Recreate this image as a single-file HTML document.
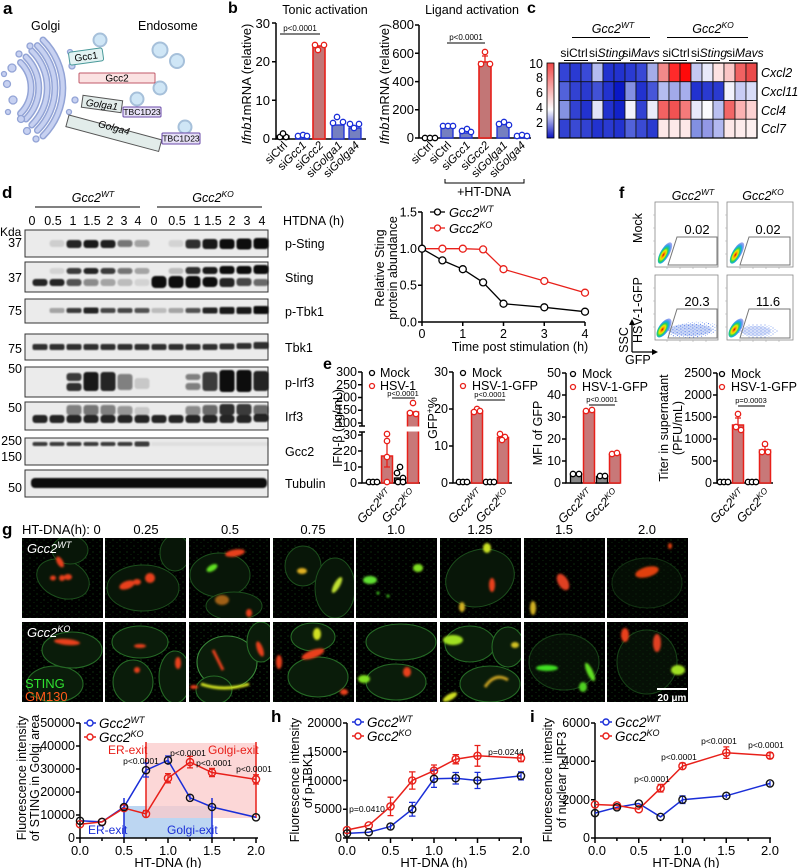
<!DOCTYPE html>
<html><head><meta charset="utf-8"><style>
html,body{margin:0;padding:0;background:#fff;}
svg{display:block;font-family:"Liberation Sans",Arial,sans-serif;}
.c{fill:#081608;stroke:#1c4f1c;stroke-width:1}
.c2{fill:#0a1c0a;stroke:#256a25;stroke-width:1.1}
</style></head><body>
<svg width="800" height="868" viewBox="0 0 800 868" xmlns="http://www.w3.org/2000/svg">
<defs>
<filter id="bl" x="-20%" y="-50%" width="140%" height="200%"><feGaussianBlur stdDeviation="0.9"/></filter>
<filter id="bl2"><feGaussianBlur stdDeviation="1"/></filter>
<pattern id="spk" width="7" height="6" patternUnits="userSpaceOnUse"><circle cx="1" cy="2" r="0.6" fill="#2f9a2f"/><circle cx="5" cy="4.5" r="0.5" fill="#237a23"/></pattern>
<pattern id="fd" width="4" height="3" patternUnits="userSpaceOnUse"><circle cx="1" cy="1" r=".55" fill="#2a58e0"/><circle cx="3" cy="2.4" r=".45" fill="#4a80f0"/></pattern>
<clipPath id="tc"><rect width="81" height="80"/></clipPath>
<radialGradient id="fg" cx=".45" cy=".6" r=".55"><stop offset="0" stop-color="#d00000"/><stop offset=".2" stop-color="#ff9a00"/><stop offset=".38" stop-color="#e8f000"/><stop offset=".56" stop-color="#30d050"/><stop offset=".75" stop-color="#10b0e0"/><stop offset="1" stop-color="#2848e0" stop-opacity=".5"/></radialGradient>
<linearGradient id="cb" x1="0" y1="0" x2="0" y2="1"><stop offset="0" stop-color="#f04848"/><stop offset=".62" stop-color="#ffffff"/><stop offset="1" stop-color="#0a14c0"/></linearGradient>
</defs>

<!-- ========== Panel a ========== -->
<text x="3" y="14" font-size="17" font-weight="bold">a</text>
<text x="31" y="30" font-size="12.5">Golgi</text>
<text x="138" y="30" font-size="12.5">Endosome</text>
<g fill="none" stroke-linecap="round">
<g stroke="#93a4d6" stroke-width="7">
<path d="M43,40 A68,68 0 0 1 43,136"/><path d="M37.4,45.6 A60,60 0 0 1 37.4,130.4"/><path d="M31.8,51 A52,52 0 0 1 31.8,125"/><path d="M26,57 A44,44 0 0 1 26,119"/><path d="M20.5,62.5 A36,36 0 0 1 20.5,113.5"/>
</g>
<g stroke="#c7d1f1" stroke-width="4">
<path d="M43,40 A68,68 0 0 1 43,136"/><path d="M37.4,45.6 A60,60 0 0 1 37.4,130.4"/><path d="M31.8,51 A52,52 0 0 1 31.8,125"/><path d="M26,57 A44,44 0 0 1 26,119"/><path d="M20.5,62.5 A36,36 0 0 1 20.5,113.5"/>
</g>
</g>
<g fill="#c7d1f1" stroke="#93a4d6" stroke-width="1.3">
<circle cx="12" cy="68" r="4"/><circle cx="7" cy="84" r="3.5"/><circle cx="13" cy="100" r="4"/><circle cx="21" cy="119" r="3.5"/><circle cx="19" cy="54" r="3"/><circle cx="30" cy="46" r="3"/><circle cx="27" cy="131" r="3.5"/><circle cx="4" cy="74" r="2.5"/><circle cx="8" cy="112" r="2.5"/><circle cx="36" cy="139" r="3"/><circle cx="72" cy="66" r="3"/><circle cx="75" cy="100" r="3"/><circle cx="69" cy="112" r="2.5"/><circle cx="70" cy="52" r="2.5"/>
</g>
<g fill="#cfe6f6" stroke="#a6c0da" stroke-width="2">
<circle cx="100" cy="40" r="6.5"/><circle cx="160" cy="50" r="7.5"/><circle cx="177" cy="61" r="7"/><circle cx="160" cy="88" r="6.5"/><circle cx="137" cy="99" r="6.5"/><circle cx="185" cy="127" r="6.5"/>
</g>
<rect x="69" y="50" width="34" height="13" rx="2" fill="#e2f2f2" stroke="#4a9a9a" transform="rotate(-8 86 56)"/>
<text x="86" y="60" font-size="10" text-anchor="middle" transform="rotate(-8 86 56)">Gcc1</text>
<rect x="79" y="73" width="76" height="10" rx="1" fill="#fbe2e2" stroke="#c05a6a"/>
<text x="117" y="81.5" font-size="10" text-anchor="middle">Gcc2</text>
<rect x="82" y="98" width="40" height="12" fill="#e2ecea" stroke="#555" transform="rotate(8 102 104)"/>
<text x="102" y="108" font-size="10" text-anchor="middle" font-style="italic" transform="rotate(8 102 104)">Golga1</text>
<rect x="123" y="107" width="38" height="10" rx="1" fill="#e6e0f6" stroke="#6a4aa8"/>
<text x="142" y="115" font-size="8.5" text-anchor="middle">TBC1D23</text>
<rect x="69" y="115" width="96" height="12" fill="#e2ecea" stroke="#555" transform="rotate(15 69 115)"/>
<text x="114" y="131" font-size="10" text-anchor="middle" font-style="italic" transform="rotate(15 114 128)">Golga4</text>
<rect x="162" y="133" width="38" height="11" rx="1" fill="#e6e0f6" stroke="#6a4aa8"/>
<text x="181" y="141.5" font-size="8.5" text-anchor="middle">TBC1D23</text>

<!-- ========== Panel b ========== -->
<text x="228" y="13" font-size="16" font-weight="bold">b</text>
<text x="325" y="14" font-size="12.5" text-anchor="middle">Tonic activation</text>
<text transform="translate(251,84) rotate(-90)" text-anchor="middle" font-size="13"><tspan font-style="italic">Ifnb1</tspan>mRNA (relative)</text>
<path d="M276,23 V139 H366" stroke="#000" stroke-width="1.5" fill="none"/>
<path d="M272,23H276M272,61.7H276M272,100.3H276M272,139H276" stroke="#000" stroke-width="1.5"/>
<g font-size="13" text-anchor="end"><text x="270" y="28">30</text><text x="270" y="66">20</text><text x="270" y="105">10</text><text x="270" y="143">0</text></g>
<rect x="277" y="136" width="12" height="3" fill="none" stroke="#000" stroke-width="1.3"/>
<rect x="296" y="135.5" width="12" height="3.5" fill="#7580c0" stroke="#1a2ed8" stroke-width="1.3"/>
<rect x="313" y="46" width="12" height="93" fill="#c27676" stroke="#e8201a" stroke-width="1.6"/>
<rect x="332" y="125" width="12" height="14" fill="#7580c0" stroke="#1a2ed8" stroke-width="1.3"/>
<rect x="349" y="128" width="12" height="11" fill="#7580c0" stroke="#1a2ed8" stroke-width="1.3"/>
<g fill="#fff" stroke-width="1.3">
<g stroke="#000"><circle cx="280" cy="137" r="2.7"/><circle cx="286" cy="137" r="2.7"/><circle cx="283" cy="133.5" r="2.7"/></g>
<g stroke="#1a2ed8"><circle cx="298" cy="136" r="2.7"/><circle cx="303" cy="135" r="2.7"/><circle cx="307" cy="136" r="2.7"/><circle cx="337" cy="117" r="2.7"/><circle cx="333" cy="123" r="2.7"/><circle cx="343" cy="122" r="2.7"/><circle cx="350" cy="124" r="2.7"/><circle cx="354" cy="128" r="2.7"/><circle cx="359" cy="124" r="2.7"/></g>
<g stroke="#e8201a"><circle cx="315" cy="45" r="2.7"/><circle cx="324" cy="45" r="2.7"/><circle cx="318" cy="50" r="2.7"/></g>
</g>
<line x1="280" y1="34" x2="320" y2="34" stroke="#000" stroke-width="1"/>
<text x="300" y="31" font-size="8" text-anchor="middle">p&lt;0.0001</text>
<g font-size="11.5" text-anchor="end">
<text transform="translate(288,146) rotate(-45)">siCtrl</text>
<text transform="translate(307,146) rotate(-45)">si<tspan font-style="italic">Gcc1</tspan></text>
<text transform="translate(324,146) rotate(-45)">si<tspan font-style="italic">Gcc2</tspan></text>
<text transform="translate(343,146) rotate(-45)">si<tspan font-style="italic">Golga1</tspan></text>
<text transform="translate(360,146) rotate(-45)">si<tspan font-style="italic">Golga4</tspan></text>
</g>

<text x="472" y="14" font-size="12.5" text-anchor="middle">Ligand activation</text>
<text transform="translate(389,84) rotate(-90)" text-anchor="middle" font-size="13"><tspan font-style="italic">Ifnb1</tspan>mRNA (relative)</text>
<path d="M419,25 V138 H531" stroke="#000" stroke-width="1.5" fill="none"/>
<path d="M415,25H419M415,53.3H419M415,81.6H419M415,109.7H419M415,138H419" stroke="#000" stroke-width="1.5"/>
<g font-size="13" text-anchor="end"><text x="414" y="29">800</text><text x="414" y="58">600</text><text x="414" y="86">400</text><text x="414" y="114">200</text><text x="414" y="142">0</text></g>
<rect x="441" y="127" width="12" height="11" fill="#7580c0" stroke="#1a2ed8" stroke-width="1.3"/>
<rect x="460" y="133" width="12" height="5" fill="#7580c0" stroke="#1a2ed8" stroke-width="1.3"/>
<rect x="479" y="62" width="12" height="76" fill="#c27676" stroke="#e8201a" stroke-width="1.6"/>
<path d="M485,62V56M482,56H488" stroke="#e8201a" stroke-width="1.3"/>
<rect x="497" y="124" width="12" height="14" fill="#7580c0" stroke="#1a2ed8" stroke-width="1.3"/>
<rect x="515" y="136.5" width="12" height="1.5" fill="#7580c0" stroke="#1a2ed8" stroke-width="1.3"/>
<g fill="#fff" stroke-width="1.3">
<g stroke="#000"><circle cx="425" cy="138" r="2.7"/><circle cx="430" cy="138" r="2.7"/><circle cx="435" cy="138" r="2.7"/></g>
<g stroke="#1a2ed8"><circle cx="443" cy="126" r="2.7"/><circle cx="448" cy="126" r="2.7"/><circle cx="453" cy="126" r="2.7"/><circle cx="462" cy="131" r="2.7"/><circle cx="467" cy="129" r="2.7"/><circle cx="471" cy="132" r="2.7"/><circle cx="499" cy="124" r="2.7"/><circle cx="504" cy="122" r="2.7"/><circle cx="509" cy="125" r="2.7"/><circle cx="517" cy="136" r="2.7"/><circle cx="522" cy="135" r="2.7"/><circle cx="527" cy="136" r="2.7"/></g>
<g stroke="#e8201a"><circle cx="485" cy="52" r="2.7"/><circle cx="481" cy="64" r="2.7"/><circle cx="490" cy="64" r="2.7"/></g>
</g>
<line x1="447" y1="43" x2="485" y2="43" stroke="#000" stroke-width="1"/>
<text x="466" y="40" font-size="8" text-anchor="middle">p&lt;0.0001</text>
<g font-size="11.5" text-anchor="end">
<text transform="translate(434,146) rotate(-45)">siCtrl</text>
<text transform="translate(452,146) rotate(-45)">siCtrl</text>
<text transform="translate(471,146) rotate(-45)">si<tspan font-style="italic">Gcc1</tspan></text>
<text transform="translate(490,146) rotate(-45)">si<tspan font-style="italic">Gcc2</tspan></text>
<text transform="translate(508,146) rotate(-45)">si<tspan font-style="italic">Golga1</tspan></text>
<text transform="translate(526,146) rotate(-45)">si<tspan font-style="italic">Golga4</tspan></text>
</g>
<path d="M445,179 V183 H524 V179" stroke="#000" stroke-width="1" fill="none"/>
<text x="484" y="196" font-size="12.5" text-anchor="middle">+HT-DNA</text>

<!-- ========== Panel c ========== -->
<text x="527" y="13" font-size="16" font-weight="bold">c</text>
<text x="613" y="33" font-size="12.5" text-anchor="middle"><tspan font-style="italic">Gcc2</tspan><tspan font-style="italic" font-size="8.5" dy="-5">WT</tspan></text>
<text x="713" y="33" font-size="12.5" text-anchor="middle"><tspan font-style="italic">Gcc2</tspan><tspan font-style="italic" font-size="8.5" dy="-5">KO</tspan></text>
<path d="M572,37.5H650M667,37.5H748" stroke="#000" stroke-width="1"/>
<g font-size="12" text-anchor="middle">
<text x="574" y="57">siCtrl</text><text x="607" y="57">si<tspan font-style="italic">Sting</tspan></text><text x="641" y="57">si<tspan font-style="italic">Mavs</tspan></text>
<text x="676" y="57">siCtrl</text><text x="709" y="57">si<tspan font-style="italic">Sting</tspan></text><text x="745" y="57">si<tspan font-style="italic">Mavs</tspan></text>
</g>
<path d="M564,60.5H588M597,60.5H621M630,60.5H654M663,60.5H687M696,60.5H720M729,60.5H753" stroke="#000" stroke-width="1"/>
<rect x="547" y="63" width="7" height="75" fill="url(#cb)" stroke="#000" stroke-width=".8"/>
<g font-size="12.5" text-anchor="end"><text x="543" y="68">10</text><text x="543" y="82">8</text><text x="543" y="97">6</text><text x="543" y="112">4</text><text x="543" y="127">2</text></g>
<g stroke="#111" stroke-width=".8">
<rect x="559" y="63" width="11" height="18.75" fill="#3444d6"/><rect x="570" y="63" width="11" height="18.75" fill="#2a3ad2"/><rect x="581" y="63" width="11" height="18.75" fill="#3a4ad8"/><rect x="592" y="63" width="11" height="18.75" fill="#b4bcf0"/><rect x="603" y="63" width="11" height="18.75" fill="#2232cf"/><rect x="614" y="63" width="11" height="18.75" fill="#2232cf"/><rect x="625" y="63" width="11" height="18.75" fill="#2a3ad2"/><rect x="636" y="63" width="11" height="18.75" fill="#3848d6"/><rect x="647" y="63" width="11" height="18.75" fill="#a4ace8"/><rect x="658" y="63" width="11" height="18.75" fill="#f28a8a"/><rect x="669" y="63" width="11" height="18.75" fill="#ff2a2a"/><rect x="680" y="63" width="11" height="18.75" fill="#ff0a0a"/><rect x="691" y="63" width="11" height="18.75" fill="#c4c8f2"/><rect x="702" y="63" width="11" height="18.75" fill="#e8e9fa"/><rect x="713" y="63" width="11" height="18.75" fill="#fde2e2"/><rect x="724" y="63" width="11" height="18.75" fill="#fbc6c6"/><rect x="735" y="63" width="11" height="18.75" fill="#f06262"/><rect x="746" y="63" width="11" height="18.75" fill="#ea4a4a"/>
<rect x="559" y="81.75" width="11" height="18.75" fill="#5262da"/><rect x="570" y="81.75" width="11" height="18.75" fill="#3242d2"/><rect x="581" y="81.75" width="11" height="18.75" fill="#2a3ad0"/><rect x="592" y="81.75" width="11" height="18.75" fill="#4252d6"/><rect x="603" y="81.75" width="11" height="18.75" fill="#2232cf"/><rect x="614" y="81.75" width="11" height="18.75" fill="#0a18c6"/><rect x="625" y="81.75" width="11" height="18.75" fill="#8490e2"/><rect x="636" y="81.75" width="11" height="18.75" fill="#2232cf"/><rect x="647" y="81.75" width="11" height="18.75" fill="#4656d8"/><rect x="658" y="81.75" width="11" height="18.75" fill="#b4bcf0"/><rect x="669" y="81.75" width="11" height="18.75" fill="#a2aaea"/><rect x="680" y="81.75" width="11" height="18.75" fill="#a6aeec"/><rect x="691" y="81.75" width="11" height="18.75" fill="#2232cf"/><rect x="702" y="81.75" width="11" height="18.75" fill="#2a3ad0"/><rect x="713" y="81.75" width="11" height="18.75" fill="#2a3ad0"/><rect x="724" y="81.75" width="11" height="18.75" fill="#f2f2fc"/><rect x="735" y="81.75" width="11" height="18.75" fill="#c8ccf4"/><rect x="746" y="81.75" width="11" height="18.75" fill="#d8dcf8"/>
<rect x="559" y="100.5" width="11" height="18.75" fill="#8492e2"/><rect x="570" y="100.5" width="11" height="18.75" fill="#3242d2"/><rect x="581" y="100.5" width="11" height="18.75" fill="#2232cf"/><rect x="592" y="100.5" width="11" height="18.75" fill="#e2e4f8"/><rect x="603" y="100.5" width="11" height="18.75" fill="#2232cf"/><rect x="614" y="100.5" width="11" height="18.75" fill="#1222c9"/><rect x="625" y="100.5" width="11" height="18.75" fill="#f2f2fc"/><rect x="636" y="100.5" width="11" height="18.75" fill="#3242d2"/><rect x="647" y="100.5" width="11" height="18.75" fill="#eaebfa"/><rect x="658" y="100.5" width="11" height="18.75" fill="#f26262"/><rect x="669" y="100.5" width="11" height="18.75" fill="#f25252"/><rect x="680" y="100.5" width="11" height="18.75" fill="#f47a7a"/><rect x="691" y="100.5" width="11" height="18.75" fill="#e8e9fa"/><rect x="702" y="100.5" width="11" height="18.75" fill="#fbfbfe"/><rect x="713" y="100.5" width="11" height="18.75" fill="#bac0f0"/><rect x="724" y="100.5" width="11" height="18.75" fill="#f26666"/><rect x="735" y="100.5" width="11" height="18.75" fill="#fbb2b2"/><rect x="746" y="100.5" width="11" height="18.75" fill="#fcd2d2"/>
<rect x="559" y="119.25" width="11" height="18.75" fill="#3242d2"/><rect x="570" y="119.25" width="11" height="18.75" fill="#3a4ad4"/><rect x="581" y="119.25" width="11" height="18.75" fill="#3242d2"/><rect x="592" y="119.25" width="11" height="18.75" fill="#2232cf"/><rect x="603" y="119.25" width="11" height="18.75" fill="#2a3ad0"/><rect x="614" y="119.25" width="11" height="18.75" fill="#2232cf"/><rect x="625" y="119.25" width="11" height="18.75" fill="#5262da"/><rect x="636" y="119.25" width="11" height="18.75" fill="#3a4ad4"/><rect x="647" y="119.25" width="11" height="18.75" fill="#2a3ad0"/><rect x="658" y="119.25" width="11" height="18.75" fill="#fde8e8"/><rect x="669" y="119.25" width="11" height="18.75" fill="#fde8e8"/><rect x="680" y="119.25" width="11" height="18.75" fill="#fde8e8"/><rect x="691" y="119.25" width="11" height="18.75" fill="#8290e2"/><rect x="702" y="119.25" width="11" height="18.75" fill="#9298e6"/><rect x="713" y="119.25" width="11" height="18.75" fill="#b2b8f0"/><rect x="724" y="119.25" width="11" height="18.75" fill="#fde8e8"/><rect x="735" y="119.25" width="11" height="18.75" fill="#fdecec"/><rect x="746" y="119.25" width="11" height="18.75" fill="#fdf0f0"/>
</g>
<rect x="559" y="63" width="198" height="75" fill="none" stroke="#000" stroke-width="1.2"/>
<g font-size="12.5" font-style="italic"><text x="761" y="77">Cxcl2</text><text x="761" y="96">Cxcl11</text><text x="761" y="115">Ccl4</text><text x="761" y="133">Ccl7</text></g>

<!-- ========== Panel d blots ========== -->
<text x="2" y="198" font-size="17" font-weight="bold">d</text>
<text x="93" y="202" font-size="12.5" text-anchor="middle"><tspan font-style="italic">Gcc2</tspan><tspan font-style="italic" font-size="8.5" dy="-5">WT</tspan></text>
<text x="213" y="202" font-size="12.5" text-anchor="middle"><tspan font-style="italic">Gcc2</tspan><tspan font-style="italic" font-size="8.5" dy="-5">KO</tspan></text>
<path d="M35,207H140M157,207H262" stroke="#000" stroke-width="1"/>
<g font-size="12.5" text-anchor="middle">
<text x="32" y="225">0</text><text x="53" y="225">0.5</text><text x="73" y="225">1</text><text x="92" y="225">1.5</text><text x="110" y="225">2</text><text x="124" y="225">3</text><text x="138" y="225">4</text>
<text x="154" y="225">0</text><text x="177" y="225">0.5</text><text x="197" y="225">1</text><text x="213" y="225">1.5</text><text x="232" y="225">2</text><text x="247" y="225">3</text><text x="262" y="225">4</text>
</g>
<text x="283" y="225" font-size="12.5">HTDNA (h)</text>
<text x="0" y="236" font-size="12">Kda</text>
<g fill="#ebebeb" stroke="#333" stroke-width="1">
<rect x="25" y="230" width="243" height="27"/><rect x="25" y="262" width="243" height="30"/><rect x="25" y="299" width="243" height="24"/><rect x="25" y="334" width="243" height="26"/><rect x="25" y="367" width="243" height="30"/><rect x="25" y="402" width="243" height="28"/><rect x="25" y="438" width="243" height="27"/><rect x="25" y="470" width="243" height="27"/>
</g>
<g font-size="12.5" text-anchor="end">
<text x="22" y="247">37</text><text x="22" y="282">37</text><text x="22" y="315">75</text><text x="22" y="353">75</text><text x="22" y="373">50</text><text x="22" y="412">50</text><text x="22" y="445">250</text><text x="22" y="461">150</text><text x="22" y="492">50</text>
</g>
<g font-size="12.5"><text x="285" y="248">p-Sting</text><text x="285" y="282">Sting</text><text x="285" y="316">p-Tbk1</text><text x="285" y="352">Tbk1</text><text x="285" y="387">p-Irf3</text><text x="285" y="421">Irf3</text><text x="285" y="456">Gcc2</text><text x="285" y="488">Tubulin</text></g>
<g fill="#111" filter="url(#bl)">
<rect x="49.5" y="240" width="15" height="7" rx="3" opacity=".12"/><rect x="66.5" y="240" width="15" height="8" rx="3" opacity=".9"/><rect x="83.5" y="240" width="15" height="8" rx="3" opacity=".95"/><rect x="100.5" y="240" width="15" height="8" rx="3" opacity=".92"/><rect x="117.5" y="240" width="15" height="7" rx="3" opacity=".55"/><rect x="134.5" y="240" width="15" height="7" rx="3" opacity=".35"/><rect x="168.5" y="240" width="15" height="7" rx="3" opacity=".1"/><rect x="185.5" y="239.5" width="15" height="9" rx="3" opacity=".85"/><rect x="202.5" y="239" width="15" height="10" rx="3" opacity=".95"/><rect x="219.5" y="239" width="15" height="10" rx="3"/><rect x="236.5" y="238.5" width="15" height="11" rx="3"/><rect x="253.5" y="238" width="15" height="11" rx="3"/>
<rect x="49.5" y="268" width="15" height="6" rx="3" opacity=".1"/><rect x="66.5" y="268" width="15" height="6" rx="3" opacity=".8"/><rect x="83.5" y="268" width="15" height="6" rx="3" opacity=".9"/><rect x="100.5" y="268" width="15" height="6" rx="3" opacity=".8"/><rect x="117.5" y="268" width="15" height="6" rx="3" opacity=".55"/><rect x="134.5" y="268" width="15" height="6" rx="3" opacity=".3"/><rect x="168.5" y="268" width="15" height="6" rx="3" opacity=".2"/><rect x="185.5" y="267" width="15" height="7" rx="3" opacity=".85"/><rect x="202.5" y="267" width="15" height="7" rx="3" opacity=".95"/><rect x="219.5" y="266" width="15" height="8" rx="3"/><rect x="236.5" y="266" width="15" height="8" rx="3"/><rect x="253.5" y="265" width="15" height="9" rx="3"/>
<rect x="32.5" y="279" width="15" height="7" rx="3" opacity=".9"/><rect x="49.5" y="279" width="15" height="7" rx="3" opacity=".9"/><rect x="66.5" y="279" width="15" height="7" rx="3" opacity=".7"/><rect x="83.5" y="279" width="15" height="7" rx="3" opacity=".45"/><rect x="100.5" y="279" width="15" height="7" rx="3" opacity=".3"/><rect x="117.5" y="279" width="15" height="7" rx="3" opacity=".2"/><rect x="134.5" y="279" width="15" height="7" rx="3" opacity=".1"/><rect x="151.5" y="276" width="15" height="12" rx="4"/><rect x="168.5" y="276" width="15" height="12" rx="4"/><rect x="185.5" y="276" width="15" height="12" rx="4"/><rect x="202.5" y="277" width="15" height="10" rx="4"/><rect x="219.5" y="278" width="15" height="9" rx="3" opacity=".9"/><rect x="236.5" y="278" width="15" height="8" rx="3" opacity=".75"/><rect x="253.5" y="279" width="15" height="7" rx="3" opacity=".6"/>
<rect x="49.5" y="308" width="15" height="5" rx="2" opacity=".3"/><rect x="66.5" y="308" width="15" height="5" rx="2" opacity=".8"/><rect x="83.5" y="307.5" width="15" height="6" rx="2" opacity=".9"/><rect x="100.5" y="308" width="15" height="5" rx="2" opacity=".75"/><rect x="117.5" y="308" width="15" height="5" rx="2" opacity=".75"/><rect x="134.5" y="308" width="15" height="5" rx="2" opacity=".7"/><rect x="151.5" y="308" width="15" height="5" rx="2" opacity=".2"/><rect x="168.5" y="308" width="15" height="5" rx="2" opacity=".3"/><rect x="185.5" y="308" width="15" height="5" rx="2" opacity=".7"/><rect x="202.5" y="307.5" width="15" height="6" rx="2" opacity=".9"/><rect x="219.5" y="307" width="15" height="7" rx="2" opacity=".95"/><rect x="236.5" y="307" width="15" height="7" rx="2" opacity=".95"/><rect x="253.5" y="306" width="15" height="8" rx="2"/>
<g opacity=".85"><rect x="32.5" y="344" width="15" height="6" rx="2"/><rect x="49.5" y="344" width="15" height="6" rx="2"/><rect x="66.5" y="344" width="15" height="6" rx="2"/><rect x="83.5" y="344" width="15" height="6" rx="2"/><rect x="100.5" y="344" width="15" height="6" rx="2"/><rect x="117.5" y="344" width="15" height="6" rx="2"/><rect x="134.5" y="344" width="15" height="6" rx="2"/><rect x="151.5" y="344" width="15" height="6" rx="2"/><rect x="168.5" y="344" width="15" height="6" rx="2"/><rect x="185.5" y="344" width="15" height="6" rx="2"/><rect x="202.5" y="344" width="15" height="6" rx="2"/><rect x="219.5" y="343.5" width="15" height="6" rx="2"/><rect x="236.5" y="343" width="15" height="6" rx="2"/><rect x="253.5" y="342" width="15" height="7" rx="2"/></g>
<rect x="66.5" y="373" width="15" height="8" rx="3" opacity=".8"/><rect x="66.5" y="383" width="15" height="8" rx="3" opacity=".85"/><rect x="83.5" y="372" width="15" height="19" rx="3" opacity=".95"/><rect x="100.5" y="372" width="15" height="19" rx="3" opacity=".9"/><rect x="117.5" y="374" width="15" height="16" rx="3" opacity=".5"/><rect x="134.5" y="378" width="15" height="11" rx="3" opacity=".15"/><rect x="185.5" y="374" width="15" height="6" rx="3" opacity=".5"/><rect x="185.5" y="383" width="15" height="7" rx="3" opacity=".5"/><rect x="202.5" y="372" width="15" height="19" rx="3" opacity=".8"/><rect x="219.5" y="370" width="15" height="22" rx="3"/><rect x="236.5" y="370" width="15" height="22" rx="3"/><rect x="253.5" y="371" width="15" height="20" rx="3" opacity=".9"/>
<rect x="66.5" y="405" width="15" height="10" rx="3" opacity=".5"/><rect x="83.5" y="405" width="15" height="10" rx="3" opacity=".55"/><rect x="100.5" y="405" width="15" height="10" rx="3" opacity=".5"/><rect x="117.5" y="406" width="15" height="9" rx="3" opacity=".4"/><rect x="134.5" y="407" width="15" height="8" rx="3" opacity=".15"/><rect x="185.5" y="406" width="15" height="9" rx="3" opacity=".45"/><rect x="202.5" y="405" width="15" height="10" rx="3" opacity=".6"/><rect x="219.5" y="404" width="15" height="11" rx="3" opacity=".85"/><rect x="236.5" y="404" width="15" height="11" rx="3" opacity=".8"/><rect x="253.5" y="405" width="15" height="10" rx="3" opacity=".6"/>
<g opacity=".9"><rect x="32.5" y="415" width="15" height="8" rx="3"/><rect x="49.5" y="415" width="15" height="8" rx="3"/><rect x="66.5" y="415" width="15" height="8" rx="3"/><rect x="83.5" y="415" width="15" height="8" rx="3"/><rect x="100.5" y="415" width="15" height="8" rx="3"/><rect x="117.5" y="415" width="15" height="8" rx="3"/><rect x="134.5" y="415" width="15" height="8" rx="3"/><rect x="151.5" y="415" width="15" height="8" rx="3"/><rect x="168.5" y="415" width="15" height="8" rx="3"/><rect x="185.5" y="415" width="15" height="8" rx="3"/><rect x="202.5" y="415" width="15" height="8" rx="3"/><rect x="219.5" y="415" width="15" height="8" rx="3"/><rect x="236.5" y="415" width="15" height="8" rx="3"/><rect x="253.5" y="414" width="15" height="8" rx="3"/></g>
<g opacity=".8"><rect x="32.5" y="442" width="15" height="4" rx="2"/><rect x="49.5" y="442" width="15" height="4" rx="2"/><rect x="66.5" y="442" width="15" height="4" rx="2"/><rect x="83.5" y="442" width="15" height="4" rx="2"/><rect x="100.5" y="442" width="15" height="4" rx="2"/><rect x="117.5" y="442" width="15" height="4" rx="2"/><rect x="134.5" y="441.5" width="15" height="5" rx="2"/></g>
<rect x="151.5" y="442" width="117" height="4" opacity=".05"/>
<rect x="31" y="478" width="236" height="10" rx="4"/>
</g>

<!-- ========== Panel d chart ========== -->
<text transform="translate(384,268) rotate(-90)" text-anchor="middle" font-size="12.5">Relative Sting</text>
<text transform="translate(397,268) rotate(-90)" text-anchor="middle" font-size="12.5">protein abundance</text>
<path d="M422,212 V322 H585" stroke="#000" stroke-width="1.5" fill="none"/>
<path d="M418,212H422M418,248.7H422M418,285.3H422M418,322H422M422,322V326M462.75,322V326M503.5,322V326M544.25,322V326M585,322V326" stroke="#000" stroke-width="1.5"/>
<g font-size="12.5" text-anchor="end"><text x="417" y="216.5">1.5</text><text x="417" y="253">1.0</text><text x="417" y="289.5">0.5</text><text x="417" y="326.5">0.0</text></g>
<g font-size="12.5" text-anchor="middle"><text x="422" y="338">0</text><text x="462.75" y="338">1</text><text x="503.5" y="338">2</text><text x="544.25" y="338">3</text><text x="585" y="338">4</text></g>
<text x="520" y="351" font-size="12.5" text-anchor="middle">Time post stimulation (h)</text>
<polyline points="422,248.7 442.4,248.7 462.8,248.7 483.1,249.4 503.5,269.2 544.3,281 585,292.7" fill="none" stroke="#e8201a" stroke-width="1.3"/>
<polyline points="422,248.7 442.4,260.4 462.8,269.2 483.1,282.4 503.5,303.7 544.3,307.3 585,311.7" fill="none" stroke="#000" stroke-width="1.3"/>
<g fill="#fff" stroke-width="1.3">
<g stroke="#e8201a"><circle cx="442.4" cy="248.7" r="3.5"/><circle cx="462.8" cy="248.7" r="3.5"/><circle cx="483.1" cy="249.4" r="3.5"/><circle cx="503.5" cy="269.2" r="3.5"/><circle cx="544.3" cy="281" r="3.5"/><circle cx="585" cy="292.7" r="3.5"/></g>
<g stroke="#000"><circle cx="422" cy="248.7" r="3.5"/><circle cx="442.4" cy="260.4" r="3.5"/><circle cx="462.8" cy="269.2" r="3.5"/><circle cx="483.1" cy="282.4" r="3.5"/><circle cx="503.5" cy="303.7" r="3.5"/><circle cx="544.3" cy="307.3" r="3.5"/><circle cx="585" cy="311.7" r="3.5"/></g>
</g>
<line x1="430" y1="212" x2="445" y2="212" stroke="#000" stroke-width="1.3"/><circle cx="437.5" cy="212" r="3" fill="#fff" stroke="#000" stroke-width="1.3"/>
<line x1="430" y1="228" x2="445" y2="228" stroke="#e8201a" stroke-width="1.3"/><circle cx="437.5" cy="228" r="3" fill="#fff" stroke="#e8201a" stroke-width="1.3"/>
<text x="449" y="217" font-size="13"><tspan font-style="italic">Gcc2</tspan><tspan font-style="italic" font-size="9" dy="-5">WT</tspan></text>
<text x="449" y="233" font-size="13"><tspan font-style="italic">Gcc2</tspan><tspan font-style="italic" font-size="9" dy="-5">KO</tspan></text>

<!-- ========== Panel f ========== -->
<text x="619" y="198" font-size="16" font-weight="bold">f</text>
<text x="693" y="200" font-size="12.5" text-anchor="middle"><tspan font-style="italic">Gcc2</tspan><tspan font-style="italic" font-size="8.5" dy="-5">WT</tspan></text>
<text x="763" y="200" font-size="12.5" text-anchor="middle"><tspan font-style="italic">Gcc2</tspan><tspan font-style="italic" font-size="8.5" dy="-5">KO</tspan></text>
<text transform="translate(642,228) rotate(-90)" text-anchor="middle" font-size="12.5">Mock</text>
<text transform="translate(642,310) rotate(-90)" text-anchor="middle" font-size="12.5">HSV-1-GFP</text>
<text transform="translate(628,340) rotate(-90)" text-anchor="middle" font-size="12.5">SSC</text>
<text x="625" y="364" font-size="12.5">GFP</text>
<path d="M632,352 V322 M632,352 H655" stroke="#000" stroke-width="1.3" fill="none"/>
<path d="M629,325 L632,319 L635,325Z M652,349 L658,352 L652,355Z" fill="#000"/>
<g fill="#fff" stroke="#888" stroke-width=".8">
<rect x="655" y="202" width="63" height="65"/><rect x="727" y="202" width="66" height="65"/><rect x="655" y="275" width="63" height="65"/><rect x="727" y="275" width="66" height="65"/>
</g>
<g stroke="#aaa" stroke-width=".6">
<path d="M653,215H655M653,228H655M653,241H655M653,254H655M725,215H727M725,228H727M725,241H727M725,254H727M653,288H655M653,301H655M653,314H655M653,327H655M725,288H727M725,301H727M725,314H727M725,327H727"/>
<path d="M667,267V269M680,267V269M693,267V269M706,267V269M740,267V269M753,267V269M766,267V269M779,267V269M667,340V342M680,340V342M693,340V342M706,340V342M740,340V342M753,340V342M766,340V342M779,340V342"/>
</g>
<ellipse cx="693" cy="330" rx="25" ry="8" fill="url(#fd)" transform="rotate(-5 693 330)"/>
<ellipse cx="690" cy="330" rx="22" ry="6" fill="#3060e0" opacity=".25"/>
<ellipse cx="758" cy="331" rx="20" ry="7" fill="url(#fd)" opacity=".8"/>
<ellipse cx="756" cy="331" rx="15" ry="5" fill="#3060e0" opacity=".2"/>
<ellipse cx="665" cy="253" rx="4.5" ry="12" fill="url(#fg)" transform="rotate(30 665 253)"/>
<ellipse cx="737" cy="253" rx="4.5" ry="12" fill="url(#fg)" transform="rotate(30 737 253)"/>
<ellipse cx="664" cy="328" rx="5" ry="11" fill="url(#fg)" transform="rotate(35 664 328)"/>
<ellipse cx="736" cy="328" rx="5" ry="11" fill="url(#fg)" transform="rotate(35 736 328)"/>
<g fill="none" stroke="#777" stroke-width="1">
<polygon points="668,265 677,237 717,237 717,265"/><polygon points="740,265 749,237 790,237 790,265"/>
<polygon points="668,338 677,309 717,309 717,338"/><polygon points="740,338 749,309 790,309 790,338"/>
</g>
<g font-size="13" text-anchor="middle"><text x="697" y="234">0.02</text><text x="768" y="234">0.02</text><text x="697" y="306">20.3</text><text x="768" y="306">11.6</text></g>

<!-- ========== Panel e ========== -->
<text x="323" y="369" font-size="16" font-weight="bold">e</text>
<text transform="translate(342,428) rotate(-90)" text-anchor="middle" font-size="12.5">IFN-β (pg/mL)</text>
<path d="M362,372 V426 M362,432 V483 H420" stroke="#000" stroke-width="1.5" fill="none"/>
<path d="M358,372H362M358,384.75H362M358,397.5H362M358,410.25H362M358,423H362M358,435H362M358,451H362M358,467H362M358,483H362M359,426H365M359,432H365" stroke="#000" stroke-width="1.5"/>
<g font-size="12.5" text-anchor="end"><text x="357" y="376">300</text><text x="357" y="389">250</text><text x="357" y="401.5">200</text><text x="357" y="414">150</text><text x="357" y="427">100</text><text x="357" y="439">30</text><text x="357" y="455">20</text><text x="357" y="471">10</text><text x="357" y="487">0</text></g>
<rect x="381.5" y="456" width="11" height="27" fill="#c87878" stroke="#e8201a" stroke-width="1.5"/>
<path d="M387,440V467M384,440H390M384,467H390" stroke="#e8201a" stroke-width="1.3"/>
<rect x="394.5" y="478" width="11" height="5" fill="#777" stroke="#000" stroke-width="1.3"/>
<rect x="407.5" y="412" width="11" height="71" fill="#c87878" stroke="#e8201a" stroke-width="1.5"/>
<rect x="405" y="426.5" width="16" height="5" fill="#fff"/>
<g fill="#fff" stroke-width="1.3">
<g stroke="#000"><circle cx="369" cy="482" r="2.7"/><circle cx="373" cy="482" r="2.7"/><circle cx="377" cy="482" r="2.7"/><circle cx="400" cy="467" r="2.7"/><circle cx="397" cy="473" r="2.7"/><circle cx="403" cy="478" r="2.7"/><circle cx="398" cy="482" r="2.7"/><circle cx="403" cy="482" r="2.7"/></g>
<g stroke="#e8201a"><circle cx="387" cy="434" r="2.7"/><circle cx="387" cy="441" r="2.7"/><circle cx="387" cy="457" r="2.7"/><circle cx="387" cy="482" r="2.7"/><circle cx="413" cy="403" r="2.7"/><circle cx="410" cy="413" r="2.7"/><circle cx="416" cy="414" r="2.7"/></g>
</g>
<circle cx="372" cy="373" r="2.5" fill="#fff" stroke="#000" stroke-width="1.3"/><text x="380" y="377" font-size="12.5">Mock</text>
<circle cx="372" cy="386" r="2.5" fill="#fff" stroke="#e8201a" stroke-width="1.3"/><text x="380" y="390" font-size="12.5">HSV-1</text>
<line x1="392" y1="398" x2="415" y2="398" stroke="#000" stroke-width="1"/>
<text x="403" y="396" font-size="7.5" text-anchor="middle">p&lt;0.0001</text>
<text transform="translate(437,418) rotate(-90)" text-anchor="middle" font-size="12.5">GFP<tspan font-size="8.5" dy="-5">+</tspan><tspan dy="5">%</tspan></text>
<path d="M453,372 V483 H512" stroke="#000" stroke-width="1.5" fill="none"/>
<path d="M449,372H453M449,409H453M449,446H453M449,483H453" stroke="#000" stroke-width="1.5"/>
<g font-size="12.5" text-anchor="end"><text x="448" y="376">30</text><text x="448" y="413">20</text><text x="448" y="450">10</text><text x="448" y="487">0</text></g>
<rect x="471.5" y="411" width="11" height="72" fill="#c87878" stroke="#e8201a" stroke-width="1.5"/>
<rect x="497.5" y="437.5" width="11" height="45.5" fill="#c87878" stroke="#e8201a" stroke-width="1.5"/>
<g fill="#fff" stroke-width="1.3">
<g stroke="#000"><circle cx="459" cy="482" r="2.7"/><circle cx="463" cy="482" r="2.7"/><circle cx="467" cy="482" r="2.7"/><circle cx="486" cy="482" r="2.7"/><circle cx="490" cy="482" r="2.7"/><circle cx="494" cy="482" r="2.7"/></g>
<g stroke="#e8201a"><circle cx="477" cy="409" r="2.7"/><circle cx="474" cy="412" r="2.7"/><circle cx="480" cy="411" r="2.7"/><circle cx="500" cy="434" r="2.7"/><circle cx="505" cy="437" r="2.7"/><circle cx="502" cy="440" r="2.7"/></g>
</g>
<circle cx="463" cy="373" r="2.5" fill="#fff" stroke="#000" stroke-width="1.3"/><text x="472" y="377" font-size="12.5">Mock</text>
<circle cx="463" cy="386" r="2.5" fill="#fff" stroke="#e8201a" stroke-width="1.3"/><text x="472" y="390" font-size="12.5">HSV-1-GFP</text>
<line x1="477" y1="400" x2="505" y2="400" stroke="#000" stroke-width="1"/>
<text x="490" y="397" font-size="7.5" text-anchor="middle">p&lt;0.0001</text>
<text transform="translate(542,433) rotate(-90)" text-anchor="middle" font-size="12.5">MFI of GFP</text>
<path d="M566,373 V483 H620" stroke="#000" stroke-width="1.5" fill="none"/>
<path d="M562,373H566M562,395H566M562,417H566M562,439H566M562,461H566M562,483H566" stroke="#000" stroke-width="1.5"/>
<g font-size="12.5" text-anchor="end"><text x="561" y="377">50</text><text x="561" y="399">40</text><text x="561" y="421">30</text><text x="561" y="443">20</text><text x="561" y="465">10</text><text x="561" y="487">0</text></g>
<rect x="570.5" y="474" width="11" height="9" fill="#888" stroke="#000" stroke-width="1.3"/>
<rect x="583.5" y="411.5" width="11" height="71.5" fill="#c87878" stroke="#e8201a" stroke-width="1.5"/>
<rect x="596.5" y="476.5" width="11" height="6.5" fill="#888" stroke="#000" stroke-width="1.3"/>
<rect x="609.5" y="454.5" width="11" height="28.5" fill="#c87878" stroke="#e8201a" stroke-width="1.5"/>
<g fill="#fff" stroke-width="1.3">
<g stroke="#000"><circle cx="573" cy="474" r="2.7"/><circle cx="579" cy="474" r="2.7"/><circle cx="600" cy="476" r="2.7"/><circle cx="605" cy="476" r="2.7"/></g>
<g stroke="#e8201a"><circle cx="586" cy="411" r="2.7"/><circle cx="592" cy="410" r="2.7"/><circle cx="612" cy="454" r="2.7"/><circle cx="617" cy="453" r="2.7"/></g>
</g>
<circle cx="573" cy="374" r="2.5" fill="#fff" stroke="#000" stroke-width="1.3"/><text x="582" y="378" font-size="12.5">Mock</text>
<circle cx="573" cy="387" r="2.5" fill="#fff" stroke="#e8201a" stroke-width="1.3"/><text x="582" y="391" font-size="12.5">HSV-1-GFP</text>
<line x1="589" y1="405" x2="615" y2="405" stroke="#000" stroke-width="1"/>
<text x="602" y="402" font-size="7.5" text-anchor="middle">p&lt;0.0001</text>
<text transform="translate(668,428) rotate(-90)" text-anchor="middle" font-size="12.5">Titer in supernatant</text>
<text transform="translate(682,428) rotate(-90)" text-anchor="middle" font-size="12.5">(PFU/mL)</text>
<path d="M717,373 V483 H773" stroke="#000" stroke-width="1.5" fill="none"/>
<path d="M713,373H717M713,395H717M713,417H717M713,439H717M713,461H717M713,483H717" stroke="#000" stroke-width="1.5"/>
<g font-size="12.5" text-anchor="end"><text x="712" y="377">2500</text><text x="712" y="399">2000</text><text x="712" y="421">1500</text><text x="712" y="443">1000</text><text x="712" y="465">500</text><text x="712" y="487">0</text></g>
<rect x="732.5" y="425" width="11" height="58" fill="#c87878" stroke="#e8201a" stroke-width="1.5"/>
<path d="M738,425V418M735,418H741" stroke="#e8201a" stroke-width="1.3"/>
<rect x="759.5" y="450" width="11" height="33" fill="#c87878" stroke="#e8201a" stroke-width="1.5"/>
<path d="M765,450V446M762,446H768" stroke="#e8201a" stroke-width="1.3"/>
<g fill="#fff" stroke-width="1.3">
<g stroke="#000"><circle cx="720" cy="482" r="2.7"/><circle cx="724" cy="482" r="2.7"/><circle cx="728" cy="482" r="2.7"/><circle cx="748" cy="482" r="2.7"/><circle cx="752" cy="482" r="2.7"/><circle cx="756" cy="482" r="2.7"/></g>
<g stroke="#e8201a"><circle cx="738" cy="414" r="2.7"/><circle cx="736" cy="427" r="2.7"/><circle cx="741" cy="430" r="2.7"/><circle cx="765" cy="444" r="2.7"/><circle cx="762" cy="452" r="2.7"/><circle cx="768" cy="452" r="2.7"/></g>
</g>
<circle cx="722" cy="374" r="2.5" fill="#fff" stroke="#000" stroke-width="1.3"/><text x="731" y="378" font-size="12.5">Mock</text>
<circle cx="722" cy="387" r="2.5" fill="#fff" stroke="#e8201a" stroke-width="1.3"/><text x="731" y="391" font-size="12.5">HSV-1-GFP</text>
<line x1="738" y1="406" x2="765" y2="406" stroke="#000" stroke-width="1"/>
<text x="751" y="403" font-size="7.5" text-anchor="middle">p=0.0003</text>
<g font-size="12.5" text-anchor="end">
<text transform="translate(392,494) rotate(-45)"><tspan font-style="italic">Gcc2</tspan><tspan font-style="italic" font-size="8.5" dy="-4">WT</tspan></text>
<text transform="translate(416,494) rotate(-45)"><tspan font-style="italic">Gcc2</tspan><tspan font-style="italic" font-size="8.5" dy="-4">KO</tspan></text>
<text transform="translate(483,494) rotate(-45)"><tspan font-style="italic">Gcc2</tspan><tspan font-style="italic" font-size="8.5" dy="-4">WT</tspan></text>
<text transform="translate(510,494) rotate(-45)"><tspan font-style="italic">Gcc2</tspan><tspan font-style="italic" font-size="8.5" dy="-4">KO</tspan></text>
<text transform="translate(593,494) rotate(-45)"><tspan font-style="italic">Gcc2</tspan><tspan font-style="italic" font-size="8.5" dy="-4">WT</tspan></text>
<text transform="translate(619,494) rotate(-45)"><tspan font-style="italic">Gcc2</tspan><tspan font-style="italic" font-size="8.5" dy="-4">KO</tspan></text>
<text transform="translate(745,494) rotate(-45)"><tspan font-style="italic">Gcc2</tspan><tspan font-style="italic" font-size="8.5" dy="-4">WT</tspan></text>
<text transform="translate(771,494) rotate(-45)"><tspan font-style="italic">Gcc2</tspan><tspan font-style="italic" font-size="8.5" dy="-4">KO</tspan></text>
</g>

<!-- ========== Panel g images ========== -->
<text x="2" y="535" font-size="17" font-weight="bold">g</text>
<text x="22" y="534" font-size="13">HT-DNA(h): 0</text>
<g font-size="13" text-anchor="middle"><text x="146" y="534">0.25</text><text x="230" y="534">0.5</text><text x="313" y="534">0.75</text><text x="396" y="534">1.0</text><text x="480" y="534">1.25</text><text x="564" y="534">1.5</text><text x="647" y="534">2.0</text></g>
<g transform="translate(22,538)"><g clip-path="url(#tc)"><rect width="81" height="80" fill="#000"/><rect width="81" height="80" fill="url(#spk)" opacity=".45"/>
<ellipse class="c" cx="41" cy="41" rx="27" ry="19" transform="rotate(20 41 41)"/><ellipse class="c" cx="48" cy="12" rx="18" ry="14"/>
<g filter="url(#bl2)" fill="#e8401a"><ellipse cx="38" cy="24" rx="3" ry="6" transform="rotate(-30 38 24)"/><ellipse cx="46" cy="39" rx="4" ry="3"/><ellipse cx="40" cy="40" rx="3" ry="3"/><ellipse cx="31" cy="40" rx="3" ry="2.5"/></g></g></g>
<g transform="translate(105,538)"><g clip-path="url(#tc)"><rect width="81" height="80" fill="#000"/><rect width="81" height="80" fill="url(#spk)" opacity=".45"/>
<ellipse class="c" cx="38" cy="50" rx="36" ry="23"/><ellipse class="c" cx="70" cy="15" rx="15" ry="18"/>
<g filter="url(#bl2)" fill="#e8401a"><ellipse cx="22" cy="47" rx="8" ry="4" transform="rotate(-20 22 47)"/><ellipse cx="45" cy="40" rx="5" ry="5"/><ellipse cx="32" cy="44" rx="4" ry="3"/></g></g></g>
<g transform="translate(189,538)"><g clip-path="url(#tc)"><rect width="81" height="80" fill="#000"/><rect width="81" height="80" fill="url(#spk)" opacity=".45"/>
<ellipse class="c" cx="31" cy="37" rx="30" ry="22"/><ellipse class="c" cx="45" cy="68" rx="28" ry="14"/>
<g filter="url(#bl2)"><ellipse cx="23" cy="30" rx="6" ry="3" transform="rotate(-30 23 30)" fill="#60e020"/><ellipse cx="46" cy="15" rx="10" ry="3.5" transform="rotate(-10 46 15)" fill="#e8401a"/><ellipse cx="33" cy="62" rx="7" ry="5" fill="#a06018"/><ellipse cx="60" cy="75" rx="3" ry="4" fill="#e8401a"/></g></g></g>
<g transform="translate(273,538)"><g clip-path="url(#tc)"><rect width="81" height="80" fill="#000"/><rect width="81" height="80" fill="url(#spk)" opacity=".45"/>
<ellipse class="c" cx="30" cy="28" rx="18" ry="20"/><ellipse class="c" cx="62" cy="50" rx="20" ry="30"/>
<g filter="url(#bl2)"><ellipse cx="29" cy="33" rx="5" ry="3" fill="#e0b020"/><ellipse cx="64" cy="47" rx="3" ry="9" transform="rotate(30 64 47)" fill="#c0e030"/></g></g></g>
<g transform="translate(356,538)"><g clip-path="url(#tc)"><rect width="81" height="80" fill="#000"/><rect width="81" height="80" fill="url(#spk)" opacity=".45"/>
<g filter="url(#bl2)"><ellipse cx="14" cy="42" rx="7" ry="4" fill="#60e030"/><ellipse cx="62" cy="30" rx="5" ry="4" fill="#80e020"/><circle cx="22" cy="55" r="1.5" fill="#40d020"/><circle cx="32" cy="58" r="1.5" fill="#40d020"/></g></g></g>
<g transform="translate(440,538)"><g clip-path="url(#tc)"><rect width="81" height="80" fill="#000"/><rect width="81" height="80" fill="url(#spk)" opacity=".45"/>
<ellipse class="c" cx="40" cy="40" rx="35" ry="28" transform="rotate(-20 40 40)"/>
<g filter="url(#bl2)"><ellipse cx="47" cy="10" rx="4" ry="5" fill="#c8e020"/><ellipse cx="52" cy="47" rx="3" ry="7" fill="#e8401a"/><ellipse cx="22" cy="69" rx="3" ry="5" fill="#d0b020"/></g></g></g>
<g transform="translate(524,538)"><g clip-path="url(#tc)"><rect width="81" height="80" fill="#000"/><rect width="81" height="80" fill="url(#spk)" opacity=".45"/>
<g filter="url(#bl2)"><ellipse cx="39" cy="44" rx="5" ry="9" transform="rotate(-30 39 44)" fill="#e04020"/><ellipse cx="9" cy="70" rx="3" ry="7" fill="#d0b020"/></g></g></g>
<g transform="translate(607,538)"><g clip-path="url(#tc)"><rect width="81" height="80" fill="#000"/><rect width="81" height="80" fill="url(#spk)" opacity=".45"/>
<ellipse class="c" cx="40" cy="45" rx="35" ry="25" opacity=".6"/>
<g filter="url(#bl2)"><ellipse cx="40" cy="34" rx="12" ry="5" transform="rotate(-15 40 34)" fill="#e04010"/><ellipse cx="63" cy="8" rx="2" ry="3" fill="#e04010"/></g></g></g>
<g transform="translate(22,622)"><g clip-path="url(#tc)"><rect width="81" height="80" fill="#000"/><rect width="81" height="80" fill="url(#spk)" opacity=".5"/>
<ellipse class="c2" cx="33" cy="62" rx="28" ry="18"/><ellipse class="c2" cx="50" cy="28" rx="30" ry="18"/>
<g filter="url(#bl2)"><ellipse cx="45" cy="20" rx="13" ry="3" transform="rotate(5 45 20)" fill="#e8401a"/></g></g></g>
<g transform="translate(105,622)"><g clip-path="url(#tc)"><rect width="81" height="80" fill="#000"/><rect width="81" height="80" fill="url(#spk)" opacity=".5"/>
<ellipse class="c2" cx="35" cy="20" rx="28" ry="16"/><ellipse class="c2" cx="28" cy="60" rx="20" ry="22"/><ellipse class="c2" cx="70" cy="55" rx="16" ry="26"/>
<g filter="url(#bl2)" fill="#e8401a"><ellipse cx="35" cy="24" rx="6" ry="2"/><ellipse cx="32" cy="48" rx="3" ry="3"/><ellipse cx="73" cy="41" rx="3" ry="6"/></g></g></g>
<g transform="translate(189,622)"><g clip-path="url(#tc)"><rect width="81" height="80" fill="#000"/><rect width="81" height="80" fill="url(#spk)" opacity=".55"/>
<ellipse class="c2" cx="38" cy="40" rx="30" ry="26" style="stroke:#3a8a3a"/><ellipse class="c2" cx="25" cy="68" rx="18" ry="14"/><ellipse class="c2" cx="72" cy="20" rx="14" ry="20"/>
<g filter="url(#bl2)"><path d="M12,62 Q35,70 60,62" stroke="#d8e820" stroke-width="3" fill="none"/><path d="M24,28 L34,48" stroke="#e8401a" stroke-width="3"/><ellipse cx="71" cy="27" rx="3" ry="8" transform="rotate(-20 71 27)" fill="#e8401a"/><ellipse cx="5" cy="65" rx="4" ry="2" fill="#e8401a"/></g></g></g>
<g transform="translate(273,622)"><g clip-path="url(#tc)"><rect width="81" height="80" fill="#000"/><rect width="81" height="80" fill="url(#spk)" opacity=".5"/>
<ellipse class="c2" cx="40" cy="15" rx="22" ry="14"/><ellipse class="c2" cx="45" cy="55" rx="30" ry="20"/>
<g filter="url(#bl2)"><ellipse cx="44" cy="12" rx="4" ry="6" fill="#d0e020"/><ellipse cx="40" cy="32" rx="12" ry="4" transform="rotate(-20 40 32)" fill="#e8401a"/><ellipse cx="6" cy="40" rx="3" ry="7" fill="#e8401a"/><ellipse cx="71" cy="70" rx="4" ry="3" fill="#e8401a"/></g></g></g>
<g transform="translate(356,622)"><g clip-path="url(#tc)"><rect width="81" height="80" fill="#000"/><rect width="81" height="80" fill="url(#spk)" opacity=".5"/>
<ellipse class="c2" cx="45" cy="20" rx="35" ry="18"/><ellipse class="c2" cx="40" cy="60" rx="30" ry="18"/>
<g filter="url(#bl2)"><ellipse cx="8" cy="57" rx="6" ry="4" fill="#80e020"/><ellipse cx="51" cy="50" rx="4" ry="5" fill="#e8401a"/></g></g></g>
<g transform="translate(440,622)"><g clip-path="url(#tc)"><rect width="81" height="80" fill="#000"/><rect width="81" height="80" fill="url(#spk)" opacity=".55"/>
<ellipse class="c2" cx="30" cy="22" rx="25" ry="18"/><ellipse class="c2" cx="68" cy="25" rx="16" ry="20"/><ellipse class="c2" cx="50" cy="62" rx="30" ry="18"/>
<g filter="url(#bl2)"><ellipse cx="13" cy="18" rx="10" ry="5" fill="#a0e020"/><ellipse cx="75" cy="23" rx="4" ry="3" fill="#d0c020"/><path d="M45,65 Q55,50 68,58" stroke="#c8a020" stroke-width="3" fill="none"/><ellipse cx="10" cy="75" rx="8" ry="3" transform="rotate(-30 10 75)" fill="#d0e020"/></g></g></g>
<g transform="translate(524,622)"><g clip-path="url(#tc)"><rect width="81" height="80" fill="#000"/><rect width="81" height="80" fill="url(#spk)" opacity=".5"/>
<ellipse class="c2" cx="40" cy="40" rx="35" ry="28" opacity=".6"/>
<g filter="url(#bl2)"><ellipse cx="23" cy="46" rx="11" ry="3" fill="#40e020"/><ellipse cx="66" cy="50" rx="3" ry="10" transform="rotate(-25 66 50)" fill="#60e020"/><ellipse cx="59" cy="65" rx="4" ry="5" fill="#50d020"/></g></g></g>
<g transform="translate(607,622)"><g clip-path="url(#tc)"><rect width="81" height="80" fill="#000"/><rect width="81" height="80" fill="url(#spk)" opacity=".5"/>
<ellipse class="c2" cx="40" cy="40" rx="30" ry="32" opacity=".6"/>
<g filter="url(#bl2)"><ellipse cx="18" cy="13" rx="4" ry="7" fill="#e8401a"/><ellipse cx="50" cy="21" rx="4" ry="9" fill="#e04020"/><ellipse cx="71" cy="48" rx="7" ry="5" fill="#a0e020"/></g></g></g>
<text x="27" y="553" font-size="13" fill="#fff"><tspan font-style="italic">Gcc2</tspan><tspan font-style="italic" font-size="9" dy="-5">WT</tspan></text>
<text x="27" y="637" font-size="13" fill="#fff"><tspan font-style="italic">Gcc2</tspan><tspan font-style="italic" font-size="9" dy="-5">KO</tspan></text>
<text x="25" y="688" font-size="13" fill="#30e030">STING</text>
<text x="25" y="701" font-size="13" fill="#ff5a1a">GM130</text>
<line x1="657" y1="689" x2="687" y2="689" stroke="#fff" stroke-width="2"/>
<text x="672" y="701" font-size="10" fill="#fff" font-weight="bold" text-anchor="middle">20 μm</text>

<!-- ========== Bottom chart (g quant) ========== -->
<text transform="translate(26,778) rotate(-90)" text-anchor="middle" font-size="12.5">Fluorescence intensity</text>
<text transform="translate(39,778) rotate(-90)" text-anchor="middle" font-size="12.5">of STING in Golgi area</text>
<rect x="124" y="806" width="88" height="32" fill="#bcd6f2"/>
<rect x="146" y="743" width="110" height="75" fill="#fbcaca" opacity=".75"/>
<path d="M124,798V838M212,798V838" stroke="#1a2ed8" stroke-width="1.5"/>
<path d="M146,742V818M256,742V818" stroke="#e8201a" stroke-width="1.5"/>
<path d="M80,723 V838 H258" stroke="#000" stroke-width="1.5" fill="none"/>
<path d="M76,723H80M76,746H80M76,769H80M76,792H80M76,815H80M76,838H80M80,838V843M124,838V843M168,838V843M212,838V843M256,838V843M102,838V841M146,838V841M190,838V841M234,838V841" stroke="#000" stroke-width="1.5"/>
<g font-size="12.5" text-anchor="end"><text x="75" y="727">50000</text><text x="75" y="750">40000</text><text x="75" y="773">30000</text><text x="75" y="796">20000</text><text x="75" y="819">10000</text><text x="75" y="842">0</text></g>
<g font-size="13" text-anchor="middle"><text x="80" y="855">0.0</text><text x="124" y="855">0.5</text><text x="168" y="855">1.0</text><text x="212" y="855">1.5</text><text x="256" y="855">2.0</text></g>
<text x="168" y="867" font-size="13" text-anchor="middle">HT-DNA (h)</text>
<g font-size="12">
<text x="108" y="754" fill="#e8201a">ER-exit</text><text x="208" y="754" fill="#e8201a">Golgi-exit</text>
<text x="88" y="834" fill="#1a2ed8">ER-exit</text><text x="167" y="834" fill="#1a2ed8">Golgi-exit</text>
</g>
<polyline points="80,820.8 102,821.9 124,807 146,770.2 168,760.3 190,797.8 212,807 256,817.3" fill="none" stroke="#1a2ed8" stroke-width="1.5"/>
<polyline points="80,824.2 102,821.9 124,808.1 146,813.9 168,778.2 190,762.1 212,772.5 256,779.4" fill="none" stroke="#e8201a" stroke-width="1.5"/>
<path d="M146,763V777M143,763H149M143,777H149M168,756V765M165,756H171M190,795V800" stroke="#1a2ed8" stroke-width="1.3"/>
<path d="M168,773.6V782.8M165,773.6H171M165,782.8H171M190,756.4V767.9M187,756.4H193M187,767.9H193M212,768.4V776.6M209,768.4H215M209,776.6H215M256,774.8V784M253,774.8H259M253,784H259M146,810.5V817.4M143,810.5H149" stroke="#e8201a" stroke-width="1.3"/>
<g fill="none" stroke-width="1.4">
<g stroke="#e8201a"><circle cx="80" cy="824.2" r="3.6"/><circle cx="102" cy="821.9" r="3.6"/><circle cx="124" cy="808.1" r="3.6"/><circle cx="146" cy="813.9" r="3.6"/><circle cx="168" cy="778.2" r="3.6"/><circle cx="190" cy="762.1" r="3.6"/><circle cx="212" cy="772.5" r="3.6"/><circle cx="256" cy="779.4" r="3.6"/></g>
<g stroke="#111"><circle cx="80" cy="820.8" r="3.6"/><circle cx="102" cy="821.9" r="3.6"/><circle cx="124" cy="807" r="3.6"/><circle cx="146" cy="770.2" r="3.6"/><circle cx="168" cy="760.3" r="3.6"/><circle cx="190" cy="797.8" r="3.6"/><circle cx="212" cy="807" r="3.6"/><circle cx="256" cy="817.3" r="3.6"/></g>
</g>
<g font-size="8.5" text-anchor="middle"><text x="141" y="764">p&lt;0.0001</text><text x="188" y="756">p&lt;0.0001</text><text x="214" y="766">p&lt;0.0001</text><text x="254" y="772">p&lt;0.0001</text></g>
<line x1="84" y1="723" x2="96" y2="723" stroke="#1a2ed8" stroke-width="1.5"/><circle cx="90" cy="723" r="3" fill="#fff" stroke="#1a2ed8" stroke-width="1.4"/>
<line x1="84" y1="737" x2="96" y2="737" stroke="#e8201a" stroke-width="1.5"/><circle cx="90" cy="737" r="3" fill="#fff" stroke="#e8201a" stroke-width="1.4"/>
<text x="99" y="728" font-size="13.5"><tspan font-style="italic">Gcc2</tspan><tspan font-style="italic" font-size="9" dy="-5">WT</tspan></text>
<text x="99" y="742" font-size="13.5"><tspan font-style="italic">Gcc2</tspan><tspan font-style="italic" font-size="9" dy="-5">KO</tspan></text>

<!-- ========== Chart h ========== -->
<text x="271" y="722" font-size="17" font-weight="bold">h</text>
<text transform="translate(299,780) rotate(-90)" text-anchor="middle" font-size="12.5">Fluorescence intensity</text>
<text transform="translate(312,780) rotate(-90)" text-anchor="middle" font-size="12.5">of p-TBK1</text>
<path d="M347,723 V838 H522" stroke="#000" stroke-width="1.5" fill="none"/>
<path d="M343,723H347M343,751.75H347M343,780.5H347M343,809.25H347M343,838H347M347,838V843M390.5,838V843M434,838V843M477.5,838V843M521,838V843M368.75,838V841M412.25,838V841M455.75,838V841M499.25,838V841" stroke="#000" stroke-width="1.5"/>
<g font-size="12.5" text-anchor="end"><text x="342" y="727">20000</text><text x="342" y="756">15000</text><text x="342" y="785">10000</text><text x="342" y="813">5000</text><text x="342" y="842">0</text></g>
<g font-size="13" text-anchor="middle"><text x="347" y="855">0.0</text><text x="390.5" y="855">0.5</text><text x="434" y="855">1.0</text><text x="477.5" y="855">1.5</text><text x="521" y="855">2.0</text></g>
<text x="434" y="867" font-size="13" text-anchor="middle">HT-DNA (h)</text>
<polyline points="347,833.4 368.75,832.25 390.5,826.5 412.25,809.25 434,778.8 455.75,778.2 477.5,780.5 521,775.9" fill="none" stroke="#1a2ed8" stroke-width="1.5"/>
<polyline points="347,830 368.75,825.4 390.5,806.4 412.25,780.5 434,770.7 455.75,759.2 477.5,755.8 521,758.1" fill="none" stroke="#e8201a" stroke-width="1.5"/>
<path d="M412.25,802.4V816.1M409,802.4H415.5M409,816.1H415.5M434,770.2V787.4M431,770.2H437M431,787.4H437M455.75,772.5V784M452.5,772.5H459M452.5,784H459M477.5,772.4V788.5M474.5,772.4H480.5M474.5,788.5H480.5M521,771.9V779.9M518,771.9H524M518,779.9H524M390.5,823.6V829.4" stroke="#1a2ed8" stroke-width="1.3"/>
<path d="M390.5,797.2V815.6M387.5,797.2H393.5M387.5,815.6H393.5M412.25,771.9V789.1M409,771.9H415.5M409,789.1H415.5M434,765V776.5M431,765H437M455.75,754.6V763.8M452.5,754.6H459M452.5,763.8H459M477.5,745.5V766.2M474.5,745.5H480.5M474.5,766.2H480.5M521,754.7V761.6M518,754.7H524M518,761.6H524" stroke="#e8201a" stroke-width="1.3"/>
<g fill="none" stroke-width="1.4">
<g stroke="#e8201a"><circle cx="347" cy="830" r="3.6"/><circle cx="368.75" cy="825.4" r="3.6"/><circle cx="390.5" cy="806.4" r="3.6"/><circle cx="412.25" cy="780.5" r="3.6"/><circle cx="434" cy="770.7" r="3.6"/><circle cx="455.75" cy="759.2" r="3.6"/><circle cx="477.5" cy="755.8" r="3.6"/><circle cx="521" cy="758.1" r="3.6"/></g>
<g stroke="#111"><circle cx="347" cy="833.4" r="3.6"/><circle cx="368.75" cy="832.25" r="3.6"/><circle cx="390.5" cy="826.5" r="3.6"/><circle cx="412.25" cy="809.25" r="3.6"/><circle cx="434" cy="778.8" r="3.6"/><circle cx="455.75" cy="778.2" r="3.6"/><circle cx="477.5" cy="780.5" r="3.6"/><circle cx="521" cy="775.9" r="3.6"/></g>
</g>
<g font-size="8.5" text-anchor="middle"><text x="367" y="812">p=0.0410</text><text x="506" y="755">p=0.0244</text></g>
<line x1="352" y1="722" x2="364" y2="722" stroke="#1a2ed8" stroke-width="1.5"/><circle cx="358" cy="722" r="3" fill="#fff" stroke="#1a2ed8" stroke-width="1.4"/>
<line x1="352" y1="736" x2="364" y2="736" stroke="#e8201a" stroke-width="1.5"/><circle cx="358" cy="736" r="3" fill="#fff" stroke="#e8201a" stroke-width="1.4"/>
<text x="367" y="727" font-size="13.5"><tspan font-style="italic">Gcc2</tspan><tspan font-style="italic" font-size="9" dy="-5">WT</tspan></text>
<text x="367" y="741" font-size="13.5"><tspan font-style="italic">Gcc2</tspan><tspan font-style="italic" font-size="9" dy="-5">KO</tspan></text>

<!-- ========== Chart i ========== -->
<text x="530" y="722" font-size="17" font-weight="bold">i</text>
<text transform="translate(552,780) rotate(-90)" text-anchor="middle" font-size="12.5">Fluorescence intensity</text>
<text transform="translate(566,780) rotate(-90)" text-anchor="middle" font-size="12.5">of nuclear p-IRF3</text>
<path d="M595,723 V838 H771" stroke="#000" stroke-width="1.5" fill="none"/>
<path d="M591,723H595M591,761.3H595M591,799.7H595M591,838H595M595,838V843M638.75,838V843M682.5,838V843M726.25,838V843M770,838V843M616.9,838V841M660.6,838V841M704.4,838V841M748.1,838V841" stroke="#000" stroke-width="1.5"/>
<g font-size="12.5" text-anchor="end"><text x="590" y="727">6000</text><text x="590" y="765">4000</text><text x="590" y="804">2000</text><text x="590" y="842">0</text></g>
<g font-size="13" text-anchor="middle"><text x="597" y="855">0.0</text><text x="638.75" y="855">0.5</text><text x="682.5" y="855">1.0</text><text x="726.25" y="855">1.5</text><text x="770" y="855">2.0</text></g>
<text x="686" y="867" font-size="13" text-anchor="middle">HT-DNA (h)</text>
<polyline points="595,813.1 616.9,807.3 638.8,803.5 660.6,816.9 682.5,799.7 726.3,795.8 770,783.4" fill="none" stroke="#1a2ed8" stroke-width="1.5"/>
<polyline points="595,804.5 616.9,805.4 638.8,809.2 660.6,788.2 682.5,766.1 726.3,752.7 770,755.6" fill="none" stroke="#e8201a" stroke-width="1.5"/>
<path d="M682.5,795.9V803.5M679.5,795.9H685.5M679.5,803.5H685.5M726.3,793.5V798M770,781V786" stroke="#1a2ed8" stroke-width="1.3"/>
<path d="M660.6,784.4V792M657.6,784.4H663.6M657.6,792H663.6M682.5,763V769M679.5,763H685.5M726.3,746.9V758.4M723.3,746.9H729.3M723.3,758.4H729.3M770,752.7V758.5M767,752.7H773M767,758.5H773" stroke="#e8201a" stroke-width="1.3"/>
<g fill="none" stroke-width="1.4">
<g stroke="#e8201a"><circle cx="595" cy="804.5" r="3.6"/><circle cx="616.9" cy="805.4" r="3.6"/><circle cx="638.8" cy="809.2" r="3.6"/><circle cx="660.6" cy="788.2" r="3.6"/><circle cx="682.5" cy="766.1" r="3.6"/><circle cx="726.3" cy="752.7" r="3.6"/><circle cx="770" cy="755.6" r="3.6"/></g>
<g stroke="#111"><circle cx="595" cy="813.1" r="3.6"/><circle cx="616.9" cy="807.3" r="3.6"/><circle cx="638.8" cy="803.5" r="3.6"/><circle cx="660.6" cy="816.9" r="3.6"/><circle cx="682.5" cy="799.7" r="3.6"/><circle cx="726.3" cy="795.8" r="3.6"/><circle cx="770" cy="783.4" r="3.6"/></g>
</g>
<g font-size="8.5" text-anchor="middle"><text x="652" y="782">p&lt;0.0001</text><text x="679" y="760">p&lt;0.0001</text><text x="719" y="744">p&lt;0.0001</text><text x="766" y="748">p&lt;0.0001</text></g>
<line x1="600" y1="722" x2="612" y2="722" stroke="#1a2ed8" stroke-width="1.5"/><circle cx="606" cy="722" r="3" fill="#fff" stroke="#1a2ed8" stroke-width="1.4"/>
<line x1="600" y1="736" x2="612" y2="736" stroke="#e8201a" stroke-width="1.5"/><circle cx="606" cy="736" r="3" fill="#fff" stroke="#e8201a" stroke-width="1.4"/>
<text x="615" y="727" font-size="13.5"><tspan font-style="italic">Gcc2</tspan><tspan font-style="italic" font-size="9" dy="-5">WT</tspan></text>
<text x="615" y="741" font-size="13.5"><tspan font-style="italic">Gcc2</tspan><tspan font-style="italic" font-size="9" dy="-5">KO</tspan></text>
</svg>
</body></html>
